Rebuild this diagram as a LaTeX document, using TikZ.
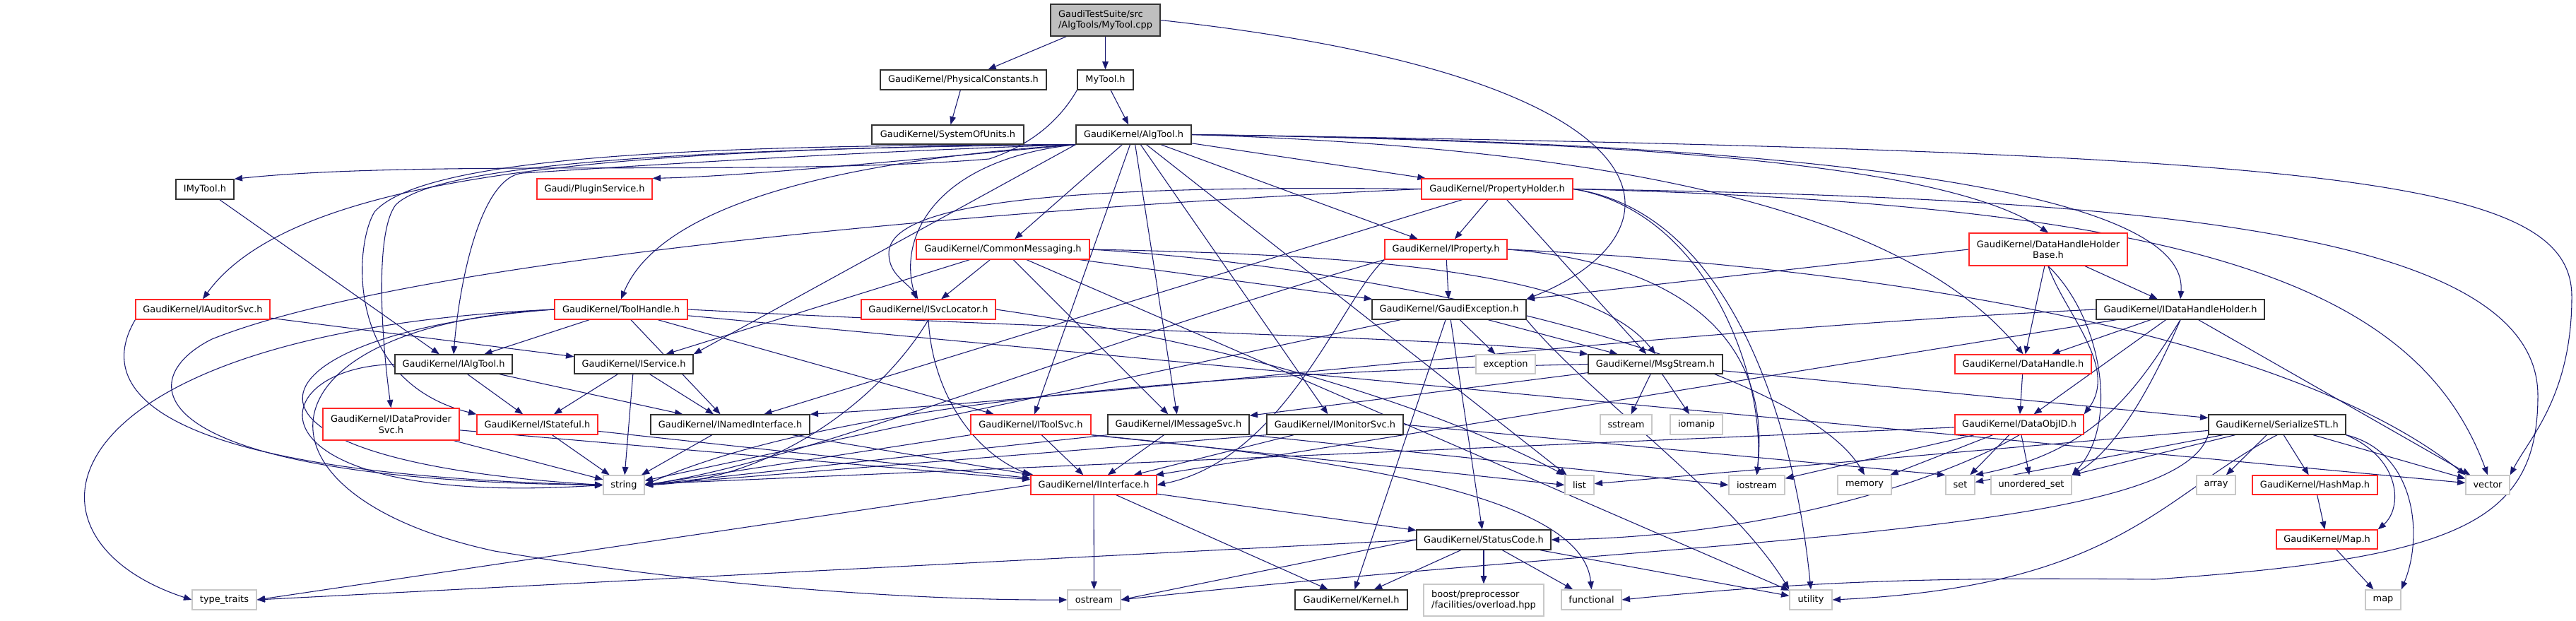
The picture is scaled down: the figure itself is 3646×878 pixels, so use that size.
\documentclass[tikz,border=0pt]{standalone}
\usepackage{fontspec}
\setmainfont{DejaVu Sans}
\usetikzlibrary{arrows.meta}
\pgfdeclarelayer{background}
\pgfsetlayers{background,main}
\definecolor{edgecol}{RGB}{25,25,112}
\definecolor{nodeblk}{RGB}{50,50,50}
\definecolor{nodered}{RGB}{255,40,40}
\definecolor{nodegray}{RGB}{200,200,200}
\definecolor{rootfill}{RGB}{191,191,191}
\tikzset{
  gbox/.style={rectangle, inner sep=0pt, fill=white, font=\fontsize{9.7}{11.6}\selectfont, align=center, line width=1pt},
  blk/.style={draw=nodeblk},
  rd/.style={draw=nodered},
  gr/.style={draw=nodegray},
  rootst/.style={draw=nodeblk, fill=rootfill},
  edge/.style={draw=edgecol, line width=0.8pt, -{Triangle[length=8.5pt,width=6.5pt]}}
}
\newcommand\gn[7][]{\node[gbox,#1,minimum width={(#5-#3)*0.75pt},minimum height={(#6-#4)*0.75pt}] (#2) at ({(#3+#5)/2},{(#4+#6)/2}) {#7};}
\newcommand\fan[2]{\foreach \t in {#2} {\draw[edge] (#1) -- (\t);}}
\begin{document}
\begin{tikzpicture}[x=0.75pt,y=-0.75pt]
\useasboundingbox (0,0) rectangle (3646,878);
% nodes
\gn[rootst,align=left]{root}{1487}{6}{1642}{51}{GaudiTestSuite/src\\/AlgTools/MyTool.cpp}
\gn[blk]{phys}{1246}{99}{1481}{127}{GaudiKernel/PhysicalConstants.h}
\gn[blk]{mytoolh}{1525}{99}{1604}{127}{MyTool.h}
\gn[blk]{sou}{1234}{177}{1449}{204}{GaudiKernel/SystemOfUnits.h}
\gn[blk]{algtool}{1523}{177}{1686}{204}{GaudiKernel/AlgTool.h}
\gn[blk]{imytool}{249}{254}{331}{282}{IMyTool.h}
\gn[rd]{plugin}{760}{253}{923}{282}{Gaudi/PluginService.h}
\gn[rd]{propholder}{2012}{253}{2226}{282}{GaudiKernel/PropertyHolder.h}
\gn[rd]{commsg}{1297}{339}{1542}{367}{GaudiKernel/CommonMessaging.h}
\gn[rd]{iproperty}{1960}{339}{2133}{367}{GaudiKernel/IProperty.h}
\gn[rd]{dhhb}{2787}{330}{3011}{376}{GaudiKernel/DataHandleHolder\\Base.h}
\gn[rd]{iauditor}{192}{424}{382}{452}{GaudiKernel/IAuditorSvc.h}
\gn[rd]{toolhandle}{785}{424}{973}{452}{GaudiKernel/ToolHandle.h}
\gn[rd]{isvcloc}{1219}{424}{1409}{452}{GaudiKernel/ISvcLocator.h}
\gn[blk]{gexc}{1942}{424}{2160}{452}{GaudiKernel/GaudiException.h}
\gn[blk]{idhh}{2967}{424}{3205}{452}{GaudiKernel/IDataHandleHolder.h}
\gn[blk]{ialgtool}{559}{502}{725}{529}{GaudiKernel/IAlgTool.h}
\gn[blk]{iservice}{813}{502}{981}{529}{GaudiKernel/IService.h}
\gn[gr]{exception}{2089}{502}{2173}{529}{exception}
\gn[blk]{msgstream}{2248}{502}{2438}{529}{GaudiKernel/MsgStream.h}
\gn[rd]{datahandle}{2767}{502}{2960}{529}{GaudiKernel/DataHandle.h}
\gn[rd]{idps}{457}{578}{650}{623}{GaudiKernel/IDataProvider\\Svc.h}
\gn[rd]{istateful}{675}{587}{846}{615}{GaudiKernel/IStateful.h}
\gn[blk]{inamed}{921}{587}{1146}{615}{GaudiKernel/INamedInterface.h}
\gn[rd]{itoolsvc}{1374}{587}{1544}{615}{GaudiKernel/IToolSvc.h}
\gn[blk]{imsgsvc}{1568}{587}{1768}{615}{GaudiKernel/IMessageSvc.h}
\gn[blk]{imonsvc}{1793}{587}{1986}{615}{GaudiKernel/IMonitorSvc.h}
\gn[gr]{sstream}{2265}{587}{2338}{615}{sstream}
\gn[gr]{iomanip}{2364}{587}{2438}{615}{iomanip}
\gn[rd]{dataobjid}{2767}{587}{2949}{615}{GaudiKernel/DataObjID.h}
\gn[blk]{serialize}{3126}{587}{3320}{615}{GaudiKernel/SerializeSTL.h}
\gn[gr]{string}{854}{673}{912}{700}{string}
\gn[rd]{iinterface}{1459}{673}{1637}{700}{GaudiKernel/IInterface.h}
\gn[gr]{list}{2215}{673}{2256}{700}{list}
\gn[gr]{iostream}{2447}{673}{2526}{700}{iostream}
\gn[gr]{memory}{2601}{673}{2677}{700}{memory}
\gn[gr]{set}{2754}{673}{2795}{700}{set}
\gn[gr]{uset}{2818}{673}{2932}{700}{unordered\_set}
\gn[gr]{array}{3109}{673}{3164}{700}{array}
\gn[rd]{hashmap}{3188}{673}{3365}{700}{GaudiKernel/HashMap.h}
\gn[gr]{vector}{3490}{673}{3552}{700}{vector}
\gn[blk]{statuscode}{2005}{750}{2195}{778}{GaudiKernel/StatusCode.h}
\gn[rd]{maph}{3222}{750}{3365}{777}{GaudiKernel/Map.h}
\gn[gr]{typetraits}{272}{835}{363}{863}{type\_traits}
\gn[gr]{ostream}{1511}{835}{1586}{863}{ostream}
\gn[blk]{kernel}{1833}{835}{1992}{863}{GaudiKernel/Kernel.h}
\gn[gr,align=left]{boost}{2015}{827}{2185}{872}{boost/preprocessor\\/facilities/overload.hpp}
\gn[gr]{functional}{2210}{835}{2295}{863}{functional}
\gn[gr]{utility}{2533}{835}{2593}{863}{utility}
\gn[gr]{map}{3348}{835}{3398}{863}{map}
% edges
\begin{pgfonlayer}{background}
% straight connectors
\fan{root}{phys,mytoolh}
\fan{phys}{sou}
\fan{mytoolh}{algtool}
\fan{algtool}{commsg,itoolsvc,imsgsvc,imonsvc,iproperty,propholder,list}
\fan{imytool}{ialgtool}
\fan{propholder}{iproperty,msgstream,inamed}
\fan{commsg}{isvcloc,iservice,imsgsvc,gexc,utility}
\fan{iproperty}{gexc}
\fan{dhhb}{idhh,datahandle}
\fan{iauditor}{iservice}
\fan{toolhandle}{ialgtool,inamed,itoolsvc,vector}
\fan{gexc}{statuscode,kernel,exception,msgstream,string}
\fan{msgstream}{imsgsvc,serialize,iomanip,sstream}
\fan{idhh}{datahandle,dataobjid,vector,iinterface}
\fan{datahandle}{dataobjid}
\fan{ialgtool}{inamed,istateful}
\fan{iservice}{inamed,istateful,string}
\fan{idps}{iinterface,string}
\fan{istateful}{iinterface,string}
\fan{inamed}{iinterface,string}
\fan{itoolsvc}{iinterface}
\fan{imsgsvc}{iinterface}
\fan{imonsvc}{iinterface}
\fan{dataobjid}{string,iostream,memory,set,uset}
\fan{serialize}{hashmap,array,list,set,uset,vector}
\fan{hashmap}{maph}
\fan{maph}{map}
\fan{iinterface}{statuscode,kernel,ostream}
\fan{statuscode}{kernel,boost,functional,utility}
\draw[edge] (algtool.south west) -- (iservice.north east);
\draw[edge] (dhhb.west) -- (gexc.north east);
\draw[edge] (imonsvc.east) -- (set.north west);
\draw[edge] (itoolsvc.south west) -- (string.east);
\draw[edge] (imsgsvc.south west) -- (string.east);
\draw[edge] (imonsvc.south west) -- (string.east);
\draw[edge] (itoolsvc.south east) -- (list.west);
\draw[edge] (imsgsvc.south east) -- (iostream.west);
\draw[edge] (statuscode.west) -- (ostream.east);
\draw[edge] (statuscode.west) -- (typetraits.east);
\draw[edge] (iinterface.west) -- (typetraits.east);
% curved connectors
\draw[edge] (root.east) .. controls (2390,110) and (2395,330) .. (gexc.north east);
\draw[edge] (mytoolh.south west) .. controls (1500,170) and (1460,205) .. (1400,225) .. controls (1100,250) and (600,225) .. (imytool.north east);
\draw[edge] (algtool.south west) .. controls (1300,225) and (1050,250) .. (plugin.north east);
\draw[edge] (algtool.south west) .. controls (900,210) and (420,240) .. (iauditor.north);
\draw[edge] (algtool.south west) .. controls (1150,230) and (930,300) .. (toolhandle.north);
\draw[edge] (algtool.south west) .. controls (1200,215) and (900,235) .. (740,245) .. controls (680,250) and (650,400) .. (ialgtool.north);
\draw[edge] (algtool.south west) .. controls (1000,210) and (620,230) .. (560,290) .. controls (530,330) and (540,480) .. (idps.north);
\draw[edge] (algtool.south west) .. controls (1000,205) and (600,220) .. (530,300) .. controls (500,350) and (490,540) .. (istateful.north west);
\draw[edge] (algtool.south west) .. controls (1330,225) and (1270,330) .. (isvcloc.140);
\draw[edge] (algtool.east) .. controls (2300,200) and (2750,230) .. (dhhb.north);
\draw[edge] (algtool.east) .. controls (2500,200) and (3100,260) .. (idhh.north);
\draw[edge] (algtool.east) .. controls (2300,210) and (2700,300) .. (datahandle.north);
\draw[edge] (algtool.east) .. controls (3300,215) and (3640,250) .. (3640,420) .. controls (3640,560) and (3580,620) .. (vector.north east);
\draw[edge] (propholder.west) .. controls (1550,262) and (1255,280) .. (1258,360) .. controls (1259,390) and (1285,400) .. (isvcloc.135);
\draw[edge] (propholder.east) .. controls (3100,290) and (3420,400) .. (vector.north);
\draw[edge] (propholder.east) .. controls (3000,280) and (3592,320) .. (3592,560) .. controls (3592,740) and (3480,790) .. (3050,820) .. controls (2800,818) and (2600,818) .. (functional.east);
\draw[edge] (propholder.west) .. controls (1500,290) and (600,360) .. (300,480) .. controls (180,540) and (200,680) .. (string.west);
\draw[edge] (propholder.east) .. controls (2450,300) and (2540,600) .. (utility.north);
\draw[edge] (propholder.east) .. controls (2420,300) and (2500,540) .. (iostream.north);
\draw[edge] (iproperty.south west) .. controls (1900,420) and (1820,650) .. (iinterface.east);
\draw[edge] (iproperty.east) .. controls (2700,380) and (3250,480) .. (vector.north west);
\draw[edge] (iproperty.east) .. controls (2350,370) and (2510,460) .. (iostream.north);
\draw[edge] (iproperty.south west) .. controls (1500,500) and (1150,650) .. (string.east);
\draw[edge] (commsg.east) .. controls (1900,360) and (2250,380) .. (msgstream.north);
\draw[edge] (commsg.east) .. controls (2000,380) and (2550,520) .. (memory.north);
\draw[edge] (dhhb.south) .. controls (2920,440) and (3000,520) .. (dataobjid.north east);
\draw[edge] (dhhb.south) .. controls (2975,450) and (3000,600) .. (uset.north east);
\draw[edge] (iauditor.south west) .. controls (140,540) and (180,670) .. (string.west);
\draw[edge] (toolhandle.east) .. controls (1600,470) and (2100,480) .. (msgstream.north west);
\draw[edge] (toolhandle.west) .. controls (350,470) and (250,650) .. (string.west);
\draw[edge] (toolhandle.west) .. controls (60,470) and (0,760) .. (typetraits.west);
\draw[edge] (toolhandle.west) .. controls (360,460) and (330,700) .. (700,780) .. controls (1000,830) and (1300,850) .. (ostream.west);
\draw[edge] (isvcloc.south) .. controls (1250,560) and (1100,680) .. (string.east);
\draw[edge] (isvcloc.south) .. controls (1320,560) and (1380,640) .. (iinterface.north west);
\draw[edge] (isvcloc.east) .. controls (1700,480) and (2000,560) .. (list.north west);
\draw[edge] (gexc.south east) .. controls (2250,560) and (2450,700) .. (utility.north west);
\draw[edge] (msgstream.west) .. controls (1800,525) and (1200,560) .. (string.east);
\draw[edge] (idhh.south) .. controls (3020,560) and (2960,640) .. (set.north east);
\draw[edge] (idhh.south) .. controls (3040,560) and (2990,640) .. (uset.north east);
\draw[edge] (idhh.west) .. controls (2300,470) and (1600,560) .. (inamed.north east);
\draw[edge] (ialgtool.west) .. controls (360,520) and (340,720) .. (string.west);
\draw[edge] (itoolsvc.south east) .. controls (1900,650) and (2240,700) .. (functional.north);
\draw[edge] (dataobjid.south) .. controls (2750,680) and (2500,760) .. (statuscode.east);
\draw[edge] (serialize.south east) .. controls (3400,650) and (3400,720) .. (maph.north east);
\draw[edge] (serialize.south east) .. controls (3420,640) and (3430,760) .. (map.north east);
\draw[edge] (serialize.south west) .. controls (3080,760) and (2400,760) .. (ostream.east);
\draw[edge] (serialize.south) .. controls (3060,700) and (3000,830) .. (utility.east);
\end{pgfonlayer}
\end{tikzpicture}
\end{document}
